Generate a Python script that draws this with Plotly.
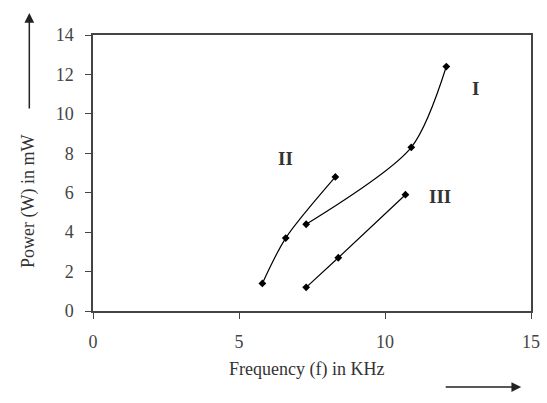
import plotly.graph_objects as go

freq_I = [7.3, 10.9, 12.1]
power_I = [4.4, 8.3, 12.4]
freq_II = [5.8, 6.6, 8.3]
power_II = [1.4, 3.7, 6.8]
freq_III = [7.3, 8.4, 10.7]
power_III = [1.2, 2.7, 5.9]

labels = ["I", "II", "III"]
label_x = [13.1, 6.6, 11.9]
label_y = [11.3, 7.75, 5.8]

FONT = "Times New Roman, Liberation Serif, DejaVu Serif, serif"

fig = go.Figure()
for xs, ys in [(freq_I, power_I), (freq_II, power_II), (freq_III, power_III)]:
    fig.add_trace(go.Scatter(
        x=xs, y=ys, mode="lines+markers",
        line=dict(color="black", width=1.2, shape="spline", smoothing=0.8),
        marker=dict(color="black", size=6, symbol="diamond"),
        showlegend=False,
    ))

for t, lx, ly in zip(labels, label_x, label_y):
    fig.add_annotation(x=lx, y=ly, text="<b>" + t + "</b>", showarrow=False,
                       font=dict(family=FONT, size=19, color="#333"))

# axis titles
fig.add_annotation(xref="paper", yref="paper", x=-0.1745, y=0.395,
                   text="Power (W) in mW", textangle=-90, showarrow=False,
                   font=dict(family=FONT, size=18, color="#333"))
fig.add_annotation(xref="paper", yref="paper", x=0.488, y=-0.257,
                   text="Frequency (f) in KHz", showarrow=False,
                   font=dict(family=FONT, size=18, color="#333"))
# arrows
fig.add_annotation(xref="paper", yref="paper", x=-0.1454, y=1.0797,
                   ax=0, ay=97, text="", showarrow=True,
                   arrowhead=2, arrowsize=1.3, arrowwidth=1.5, arrowcolor="#222")
fig.add_annotation(xref="paper", yref="paper", x=0.9776, y=-0.2754,
                   ax=-77, ay=0, text="", showarrow=True,
                   arrowhead=2, arrowsize=1.3, arrowwidth=1.5, arrowcolor="#222")

fig.update_layout(
    width=547, height=403,
    margin=dict(l=93, r=7, t=35, b=92),
    plot_bgcolor="white", paper_bgcolor="white",
    font=dict(family=FONT, size=18, color="#444"),
)
fig.update_xaxes(range=[0, 15], tickvals=[0, 5, 10, 15], showgrid=False,
                 zeroline=False, showline=True, linecolor="#444", linewidth=1.5,
                 mirror=True, ticks="outside", ticklen=6, tickcolor="#444",
                 ticklabelstandoff=8)
fig.update_yaxes(range=[0, 14], tickvals=list(range(0, 15, 2)), showgrid=False,
                 zeroline=False, showline=True, linecolor="#444", linewidth=1.5,
                 mirror=True, ticks="outside", ticklen=6, tickcolor="#444",
                 ticklabelstandoff=8)

fig.write_html("out.html")
